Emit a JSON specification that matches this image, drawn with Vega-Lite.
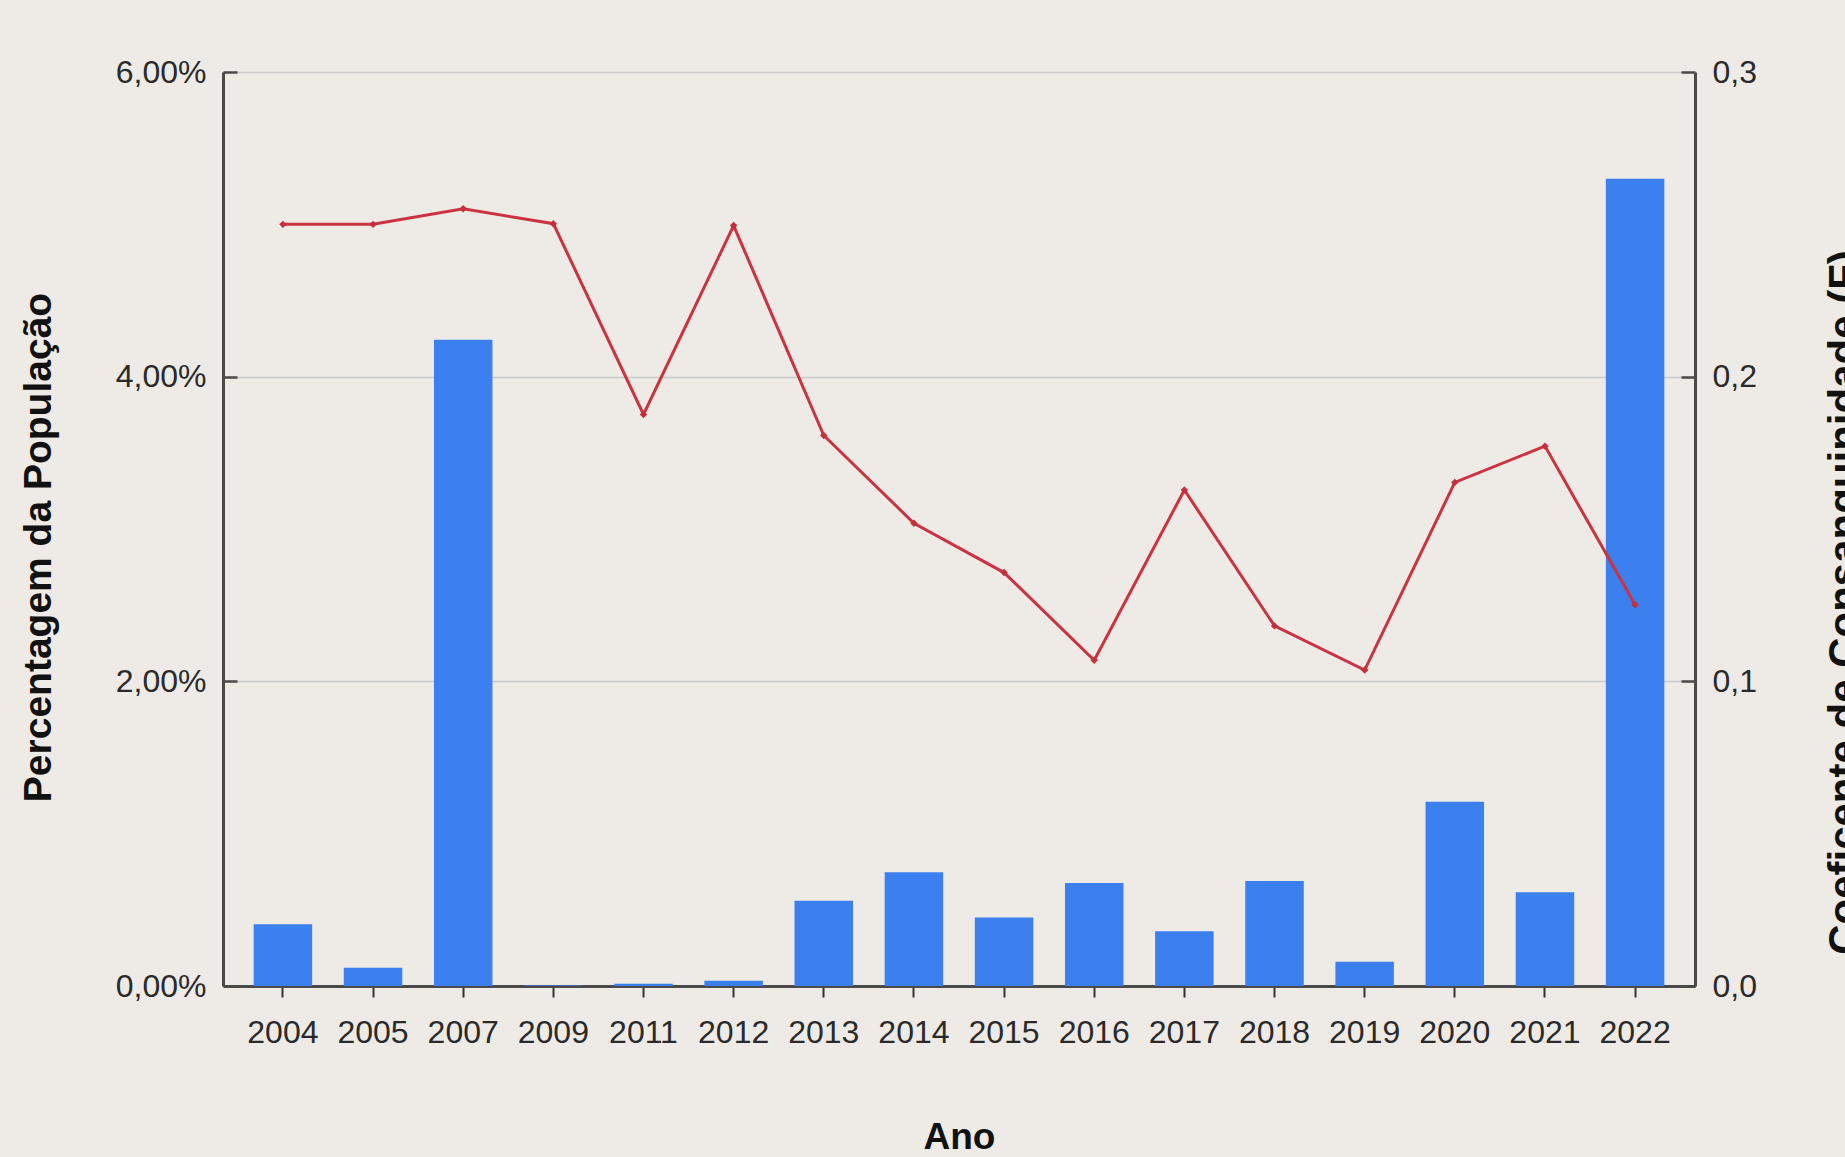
{
  "$schema": "https://vega.github.io/schema/vega-lite/v6.json",
  "width": 1472,
  "height": 914,
  "autosize": {"type": "none"},
  "padding": {"left": 223, "top": 72, "right": 150, "bottom": 171},
  "background": "#eeebe7",
  "config": {"view": {"stroke": null}, "font": "Liberation Sans"},
  "data": {
    "values": [
      {"ano": "2004", "pct": 0.406, "F": 0.250},
      {"ano": "2005", "pct": 0.12, "F": 0.250},
      {"ano": "2007", "pct": 4.243, "F": 0.2551},
      {"ano": "2009", "pct": 0.004, "F": 0.2502},
      {"ano": "2011", "pct": 0.015, "F": 0.1876},
      {"ano": "2012", "pct": 0.035, "F": 0.2496},
      {"ano": "2013", "pct": 0.56, "F": 0.1807},
      {"ano": "2014", "pct": 0.746, "F": 0.1519},
      {"ano": "2015", "pct": 0.45, "F": 0.1357},
      {"ano": "2016", "pct": 0.676, "F": 0.1069},
      {"ano": "2017", "pct": 0.36, "F": 0.1628},
      {"ano": "2018", "pct": 0.69, "F": 0.1182},
      {"ano": "2019", "pct": 0.16, "F": 0.1037},
      {"ano": "2020", "pct": 1.21, "F": 0.1653},
      {"ano": "2021", "pct": 0.615, "F": 0.1772},
      {"ano": "2022", "pct": 5.30, "F": 0.1251}
    ]
  },
  "encoding": {
    "x": {
      "field": "ano",
      "type": "ordinal",
      "sort": null,
      "scale": {"paddingInner": 0.351, "paddingOuter": 0.34},
      "axis": {
        "title": "Ano",
        "titleFont": "Liberation Sans",
        "titleFontSize": 37,
        "titleFontWeight": "bold",
        "titleColor": "#111111",
        "titleBaseline": "alphabetic",
        "titleY": 162,
        "labelAngle": 0,
        "labelFontSize": 32,
        "labelColor": "#2a2a2a",
        "labelPadding": 20,
        "tickSize": 11,
        "tickWidth": 2,
        "tickColor": "#333333",
        "domainColor": "#4a4a4a",
        "domainWidth": 3
      }
    }
  },
  "layer": [
    {
      "mark": {"type": "bar", "color": "#3b80ee"},
      "encoding": {
        "y": {
          "field": "pct",
          "type": "quantitative",
          "scale": {"domain": [0, 6], "nice": false},
          "axis": {
            "orient": "left",
            "values": [0, 2, 4, 6],
            "labelExpr": "replace(format(datum.value, '.2f'), '.', ',') + '%'",
            "labelFontSize": 32,
            "labelColor": "#2a2a2a",
            "tickSize": -14,
            "labelPadding": 31,
            "tickWidth": 2.5,
            "tickColor": "#4a4a4a",
            "domainColor": "#4a4a4a",
            "domainWidth": 3,
            "grid": true,
            "gridColor": "#c9c9c9",
            "gridWidth": 1.5,
            "title": "Percentagem da População",
            "titleFont": "Liberation Sans",
            "titleFontSize": 39,
            "titleFontWeight": "bold",
            "titleColor": "#111111",
            "titleAngle": -90,
            "titleBaseline": "alphabetic",
            "titleX": -173,
            "titleY": 475
          }
        }
      }
    },
    {
      "mark": {
        "type": "line",
        "color": "#cc3340",
        "strokeWidth": 3,
        "point": {"filled": true, "size": 55, "shape": "diamond", "color": "#c42f3b"}
      },
      "encoding": {
        "y": {
          "field": "F",
          "type": "quantitative",
          "scale": {"domain": [0, 0.3], "nice": false},
          "axis": {
            "orient": "right",
            "values": [0, 0.1, 0.2, 0.3],
            "labelExpr": "replace(format(datum.value, '.1f'), '.', ',')",
            "labelFontSize": 32,
            "labelColor": "#2a2a2a",
            "tickSize": -14,
            "labelPadding": 31,
            "tickWidth": 2.5,
            "tickColor": "#4a4a4a",
            "domainColor": "#4a4a4a",
            "domainWidth": 3,
            "grid": false,
            "title": "Coeficente de Consanguinidade (F)",
            "titleFont": "Liberation Sans",
            "titleFontSize": 42,
            "titleFontWeight": "bold",
            "titleColor": "#111111",
            "titleAngle": -90,
            "titleBaseline": "alphabetic",
            "titleX": 162,
            "titleY": 530
          }
        }
      }
    }
  ],
  "resolve": {"scale": {"y": "independent"}}
}
